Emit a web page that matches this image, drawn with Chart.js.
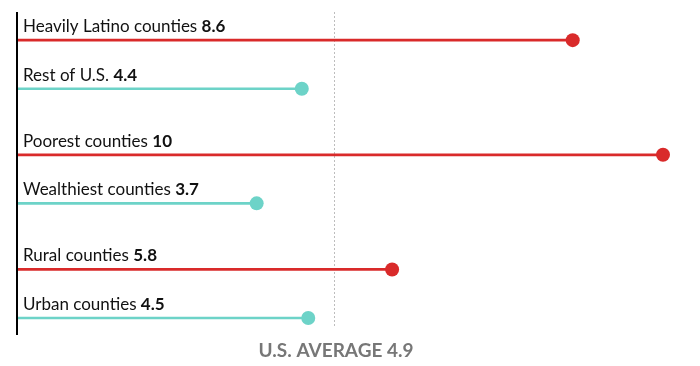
<!DOCTYPE html>
<html>
<head>
<meta charset="utf-8">
<script src="https://cdn.jsdelivr.net/npm/chart.js@4"></script>
<style>
  html, body { margin: 0; padding: 0; background: #fff; }
  #wrap { width: 700px; height: 366px; position: relative; }
</style>
</head>
<body>
<div id="wrap"><canvas id="chart"></canvas></div>
<script>
// Data
const categories = ['Heavily Latino counties', 'Rest of U.S.', 'Poorest counties', 'Wealthiest counties', 'Rural counties', 'Urban counties'];
const values = [8.6, 4.4, 10, 3.7, 5.8, 4.5];
const groups = [0, 0, 1, 1, 2, 2];
const usAverage = 4.9;
const averageLabel = 'U.S. AVERAGE';

const RED = '#d92a2a';
const TEAL = '#6dd3c8';
const colors = values.map((v, i) => i % 2 === 0 ? RED : TEAL);

// row position: extra gap between groups
const rowPos = categories.map((c, i) => i + groups[i] * 0.36);

const fontFamily = 'Lato, "Noto Sans", sans-serif';

// Labels, axis line and average line
const decor = {
  id: 'decor',
  beforeDatasetsDraw(chart) {
    const { ctx, chartArea, scales } = chart;
    const x = scales.x;
    ctx.save();
    // average dotted line
    const ax = Math.round(x.getPixelForValue(usAverage)) + 0.5;
    ctx.strokeStyle = '#bdbdbd';
    ctx.lineWidth = 1;
    ctx.setLineDash([2, 2]);
    ctx.beginPath();
    ctx.moveTo(ax, chartArea.top);
    ctx.lineTo(ax, chartArea.bottom - 7);
    ctx.stroke();
    ctx.restore();
  },
  afterDatasetsDraw(chart) {
    const { ctx, chartArea, scales } = chart;
    const x = scales.x, y = scales.y;
    ctx.save();
    // vertical axis line
    const x0 = x.getPixelForValue(0);
    ctx.strokeStyle = '#000';
    ctx.lineWidth = 2;
    ctx.beginPath();
    ctx.moveTo(x0 - 1, chartArea.top);
    ctx.lineTo(x0 - 1, chartArea.bottom);
    ctx.stroke();

    // category labels
    ctx.textBaseline = 'alphabetic';
    ctx.textAlign = 'left';
    categories.forEach((c, i) => {
      const py = y.getPixelForValue(rowPos[i]) - 8;
      ctx.font = '17px ' + fontFamily;
      ctx.fillStyle = '#111';
      const t = c + ' ';
      ctx.fillText(t, x0 + 5, py);
      const w = ctx.measureText(t).width;
      ctx.font = 'bold 17px ' + fontFamily;
      ctx.fillText(String(values[i]), x0 + 5 + w, py);
    });

    // average label
    ctx.font = 'bold 19px ' + fontFamily;
    ctx.fillStyle = '#777';
    ctx.textAlign = 'center';
    ctx.fillText(averageLabel + ' ' + usAverage, x.getPixelForValue(usAverage) + 2, chartArea.bottom + 22);
    ctx.restore();
  }
};

new Chart(document.getElementById('chart'), {
  type: 'bar',
  data: {
    datasets: [
      {
        type: 'bar',
        data: values.map((v, i) => ({ x: v, y: rowPos[i] })),
        backgroundColor: colors,
        barThickness: 2,
        order: 2
      },
      {
        type: 'scatter',
        data: values.map((v, i) => ({ x: v, y: rowPos[i] })),
        backgroundColor: colors,
        borderWidth: 0,
        pointRadius: 7,
        clip: false,
        order: 1
      }
    ]
  },
  options: {
    indexAxis: 'y',
    responsive: true,
    maintainAspectRatio: false,
    animation: false,
    layout: { padding: { top: 12, bottom: 31, left: 18, right: 37 } },
    scales: {
      x: { type: 'linear', min: 0, max: 10, display: false },
      y: { type: 'linear', min: -0.58, max: 6.07, reverse: true, offset: false, display: false }
    },
    plugins: {
      legend: { display: false },
      tooltip: { enabled: false }
    }
  },
  plugins: [decor]
});
</script>
</body>
</html>
